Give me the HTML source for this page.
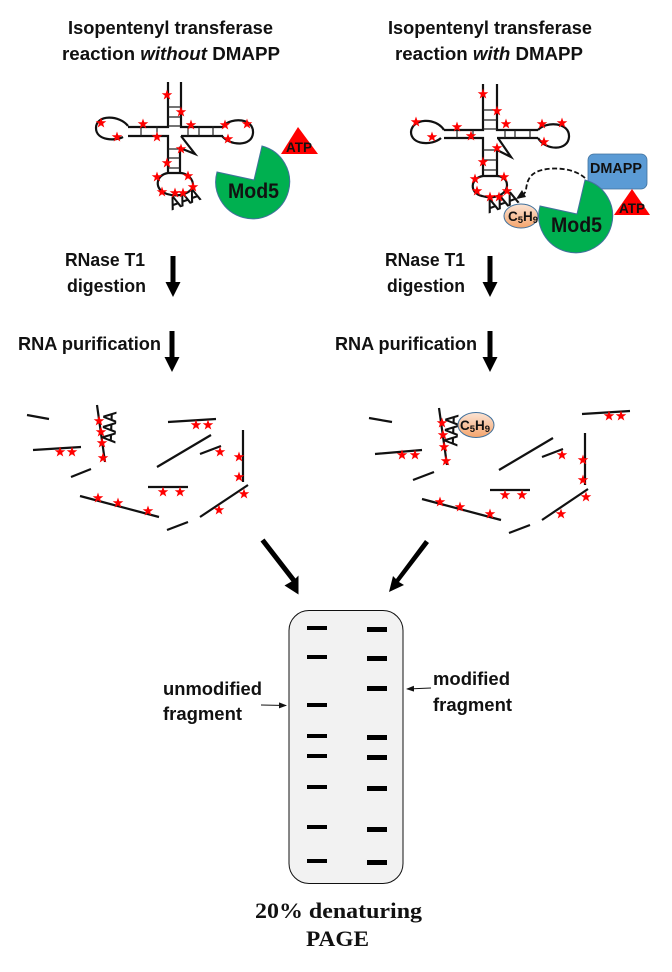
<!DOCTYPE html>
<html><head><meta charset="utf-8"><style>
html,body{margin:0;padding:0;background:#fff;width:672px;height:972px;overflow:hidden}
svg{display:block}
text{font-family:"Liberation Sans",sans-serif;font-weight:bold;fill:#111}
.s{font-family:"Liberation Serif",serif}
.r{fill:none;stroke:#111;stroke-width:2.2}
.t{stroke:#222;stroke-width:1.2;fill:none}
.f{stroke:#111;stroke-width:2.2;fill:none}
.aaa{font-weight:normal;stroke:#111;stroke-width:.8}
</style></head><body>
<svg width="672" height="972" viewBox="0 0 672 972" xmlns="http://www.w3.org/2000/svg">
<defs>
<polygon id="st" fill="#f00" points="0,-5.500 1.300,-1.800 5.300,-1.700 2.100,.7 3.300,4.500 0,2.300 -3.300,4.500 -2.100,.7 -5.300,-1.700 -1.300,-1.800"/>
<linearGradient id="og" x1="0" y1="0" x2="0" y2="1"><stop offset="0" stop-color="#fbe4d5"/><stop offset="1" stop-color="#f4a46c"/></linearGradient>
<marker id="sm" markerWidth="8" markerHeight="6" refX="7" refY="3" orient="auto" markerUnits="userSpaceOnUse"><path d="M0,0L8,3L0,6z" fill="#111"/></marker>
</defs>

<!-- titles -->
<text x="68" y="34" font-size="18.500" textLength="205" lengthAdjust="spacingAndGlyphs">Isopentenyl transferase</text>
<text x="62" y="60" font-size="18.500" textLength="218" lengthAdjust="spacingAndGlyphs">reaction <tspan font-style="italic">without</tspan> DMAPP</text>
<text x="388" y="34" font-size="18.500" textLength="204" lengthAdjust="spacingAndGlyphs">Isopentenyl transferase</text>
<text x="395" y="60" font-size="18.500" textLength="188" lengthAdjust="spacingAndGlyphs">reaction <tspan font-style="italic">with</tspan> DMAPP</text>

<!-- left tRNA -->
<g class="r">
<path d="M168,82V127H128M181,82V127H223M128,136H168V173M181,136H223M181,136L195,154L180,148V173"/>
<path d="M128,126C120,115 96,114 96,128C96,141 116,141 123,137"/>
<path d="M223,126C232,117 254,118 253,133C252,147 230,146 222,136"/>
<path d="M168,173C155,175 154,190 167,194C180,198 194,192 193,184C192,176 184,173 180,173H168"/>
</g>
<g class="t"><path d="M168,107H181M168,117H181M168,126H181M141,126V136M157,126V136M188,126V136M199,126V136M213,126V136M168,149H180M168,158H180M168,168H180"/></g>
<text class="aaa" transform="translate(172,210) rotate(-20)" font-size="18" textLength="31" lengthAdjust="spacingAndGlyphs">AAA</text>
<path d="M262,146A37,37 0 1 1 217,172L254,180Z" fill="#00b050" stroke="#41719c" stroke-width="1"/>
<text x="228" y="198" font-size="21.500" textLength="51" lengthAdjust="spacingAndGlyphs">Mod5</text>
<polygon points="298,127 281,154 318,154" fill="#f00"/>
<text x="286" y="152" font-size="14" textLength="26" lengthAdjust="spacingAndGlyphs">ATP</text>
<g>
<use href="#st" x="167" y="95"/><use href="#st" x="181" y="112"/><use href="#st" x="143" y="124"/><use href="#st" x="157" y="137"/><use href="#st" x="191" y="125"/><use href="#st" x="225" y="125"/><use href="#st" x="247" y="124"/><use href="#st" x="228" y="139"/><use href="#st" x="101" y="123"/><use href="#st" x="117" y="137"/><use href="#st" x="181" y="149"/><use href="#st" x="167" y="163"/><use href="#st" x="157" y="177"/><use href="#st" x="188" y="176"/><use href="#st" x="193" y="187"/><use href="#st" x="162" y="192"/><use href="#st" x="175" y="193"/><use href="#st" x="183" y="193"/>
</g>

<!-- right tRNA -->
<g class="r">
<path d="M483,84V130H444M497,84V130H538M444,138H483V176M497,138H538M498,138L511,157L497,150V176"/>
<path d="M444,130C436,117 412,118 411,132C411,145 432,146 441,138"/>
<path d="M538,130C546,121 570,122 569,137C568,151 546,151 538,138"/>
<path d="M483,176C470,178 469,193 482,196C495,200 507,194 507,185C507,178 500,176 497,176H483"/>
</g>
<g class="t"><path d="M483,110H497M483,120H497M483,129H497M457,130V138M473,130V138M505,130V138M515,130V138M530,130V138M483,150H497M483,160H497M483,170H497"/></g>
<text class="aaa" transform="translate(489,213) rotate(-20)" font-size="18" textLength="32" lengthAdjust="spacingAndGlyphs">AAA</text>
<rect x="588" y="154" width="59" height="35" rx="6" fill="#5b9bd5" stroke="#41719c" stroke-width=".8"/>
<text x="590" y="173" font-size="14.500" textLength="52" lengthAdjust="spacingAndGlyphs">DMAPP</text>
<path d="M585,180A37,37 0 1 1 540,206L577,214Z" fill="#00b050" stroke="#41719c" stroke-width="1"/>
<text x="551" y="232" font-size="21.500" textLength="51" lengthAdjust="spacingAndGlyphs">Mod5</text>
<polygon points="632,189 614,215 650,215" fill="#f00"/>
<text x="619" y="213" font-size="14" textLength="26" lengthAdjust="spacingAndGlyphs">ATP</text>
<path d="M585,178C574,168 554,167 542,170C530,173 527,180 526,190C525,194 522,196 518,198" fill="none" stroke="#111" stroke-width="1.800" stroke-dasharray="5 2.500"/>
<path d="M522,190L516,199L526,197Z" fill="#111"/>
<ellipse cx="521" cy="216" rx="17" ry="12" fill="url(#og)" stroke="#41719c" stroke-width="1"/>
<text x="508" y="221" font-size="13.500" font-weight="normal">C<tspan font-size="9.500" dy="2">5</tspan><tspan dy="-2">H</tspan><tspan font-size="9.500" dy="2">9</tspan></text>
<g>
<use href="#st" x="483" y="94"/><use href="#st" x="497" y="111"/><use href="#st" x="457" y="127"/><use href="#st" x="471" y="136"/><use href="#st" x="506" y="124"/><use href="#st" x="542" y="124"/><use href="#st" x="562" y="123"/><use href="#st" x="544" y="142"/><use href="#st" x="416" y="122"/><use href="#st" x="432" y="137"/><use href="#st" x="497" y="148"/><use href="#st" x="483" y="162"/><use href="#st" x="475" y="179"/><use href="#st" x="504" y="177"/><use href="#st" x="507" y="191"/><use href="#st" x="477" y="191"/><use href="#st" x="490" y="197"/><use href="#st" x="499" y="197"/>
</g>

<!-- step labels -->
<text x="65" y="266" font-size="18" textLength="80" lengthAdjust="spacingAndGlyphs">RNase T1</text>
<text x="67" y="292" font-size="18" textLength="79" lengthAdjust="spacingAndGlyphs">digestion</text>
<text x="385" y="266" font-size="18" textLength="80" lengthAdjust="spacingAndGlyphs">RNase T1</text>
<text x="387" y="292" font-size="18" textLength="78" lengthAdjust="spacingAndGlyphs">digestion</text>
<text x="18" y="350" font-size="18" textLength="143" lengthAdjust="spacingAndGlyphs">RNA purification</text>
<text x="335" y="350" font-size="18" textLength="142" lengthAdjust="spacingAndGlyphs">RNA purification</text>

<!-- down arrows -->
<g fill="#000">
<path d="M170.500,256h5v26h5l-7.500,15l-7.500,-15h5z"/>
<path d="M487.500,256h5v26h5l-7.500,15l-7.500,-15h5z"/>
<path d="M169.500,331h5v26h5l-7.500,15l-7.500,-15h5z"/>
<path d="M487.500,331h5v26h5l-7.500,15l-7.500,-15h5z"/>
<path d="M261,542L265,539L296,579L299,576L299,595L285,586L292,582Z" transform="translate(-.5,-.5)"/>
<path d="M425,540L429,543L399,582L404,585L389,592L393,576L396,579Z"/>
</g>

<!-- left fragments -->
<g class="f">
<path d="M27,415L49,419M33,450L81,447M97,405L105,462M71,477L91,469M168,422L216,419M157,467L211,435M200,454L221,446M243,430V482M148,487H188M80,496L159,517M200,517L248,485M167,530L188,522"/>
</g>
<text class="aaa" transform="translate(115,443) rotate(-88)" font-size="18" textLength="31" lengthAdjust="spacingAndGlyphs">AAA</text>
<g>
<use href="#st" x="60" y="452"/><use href="#st" x="72" y="452"/><use href="#st" x="99" y="421"/><use href="#st" x="101" y="432"/><use href="#st" x="102" y="443"/><use href="#st" x="103" y="458"/><use href="#st" x="196" y="425"/><use href="#st" x="208" y="425"/><use href="#st" x="220" y="452"/><use href="#st" x="239" y="457"/><use href="#st" x="239" y="477"/><use href="#st" x="163" y="492"/><use href="#st" x="180" y="492"/><use href="#st" x="98" y="498"/><use href="#st" x="118" y="503"/><use href="#st" x="148" y="511"/><use href="#st" x="244" y="494"/><use href="#st" x="219" y="510"/>
</g>

<!-- right fragments -->
<g class="f">
<path d="M369,418L392,422M375,454L422,450M439,408L447,465M413,480L434,472M582,414L630,411M499,470L553,438M542,457L563,449M585,433V485M490,490H530M422,499L501,520M542,520L588,489M509,533L530,525"/>
</g>
<text class="aaa" transform="translate(457,446) rotate(-88)" font-size="18" textLength="31" lengthAdjust="spacingAndGlyphs">AAA</text>
<ellipse cx="476" cy="425" rx="18" ry="12.500" fill="url(#og)" stroke="#41719c" stroke-width="1"/>
<text x="460" y="430" font-size="13.500" font-weight="normal">C<tspan font-size="9.500" dy="2">5</tspan><tspan dy="-2">H</tspan><tspan font-size="9.500" dy="2">9</tspan></text>
<g>
<use href="#st" x="402" y="455"/><use href="#st" x="415" y="455"/><use href="#st" x="442" y="423"/><use href="#st" x="443" y="435"/><use href="#st" x="444" y="447"/><use href="#st" x="446" y="461"/><use href="#st" x="609" y="416"/><use href="#st" x="621" y="416"/><use href="#st" x="562" y="455"/><use href="#st" x="583" y="460"/><use href="#st" x="583" y="480"/><use href="#st" x="505" y="495"/><use href="#st" x="522" y="495"/><use href="#st" x="440" y="502"/><use href="#st" x="460" y="507"/><use href="#st" x="490" y="514"/><use href="#st" x="586" y="497"/><use href="#st" x="561" y="514"/>
</g>

<!-- gel -->
<rect x="289" y="610.500" width="114" height="273" rx="20" fill="#f2f2f2" stroke="#111" stroke-width="1"/>
<g fill="#000">
<rect x="307" y="626" width="20" height="4"/><rect x="307" y="655" width="20" height="4"/><rect x="307" y="703" width="20" height="4"/><rect x="307" y="734" width="20" height="4"/><rect x="307" y="754" width="20" height="4"/><rect x="307" y="785" width="20" height="4"/><rect x="307" y="825" width="20" height="4"/><rect x="307" y="859" width="20" height="4"/>
<rect x="367" y="627" width="20" height="5"/><rect x="367" y="656" width="20" height="5"/><rect x="367" y="686" width="20" height="5"/><rect x="367" y="735" width="20" height="5"/><rect x="367" y="755" width="20" height="5"/><rect x="367" y="786" width="20" height="5"/><rect x="367" y="827" width="20" height="5"/><rect x="367" y="860" width="20" height="5"/>
</g>
<line x1="261" y1="705" x2="286" y2="705.500" stroke="#111" stroke-width="1" marker-end="url(#sm)"/>
<line x1="431" y1="688" x2="407" y2="689" stroke="#111" stroke-width="1" marker-end="url(#sm)"/>
<text x="163" y="695" font-size="18" textLength="99" lengthAdjust="spacingAndGlyphs">unmodified</text>
<text x="163" y="720" font-size="18" textLength="79" lengthAdjust="spacingAndGlyphs">fragment</text>
<text x="433" y="685" font-size="18" textLength="77" lengthAdjust="spacingAndGlyphs">modified</text>
<text x="433" y="711" font-size="18" textLength="79" lengthAdjust="spacingAndGlyphs">fragment</text>
<text class="s" x="255" y="918" font-size="22" textLength="167" lengthAdjust="spacingAndGlyphs">20% denaturing</text>
<text class="s" x="306" y="946" font-size="22" textLength="63" lengthAdjust="spacingAndGlyphs">PAGE</text>
</svg>
</body></html>
